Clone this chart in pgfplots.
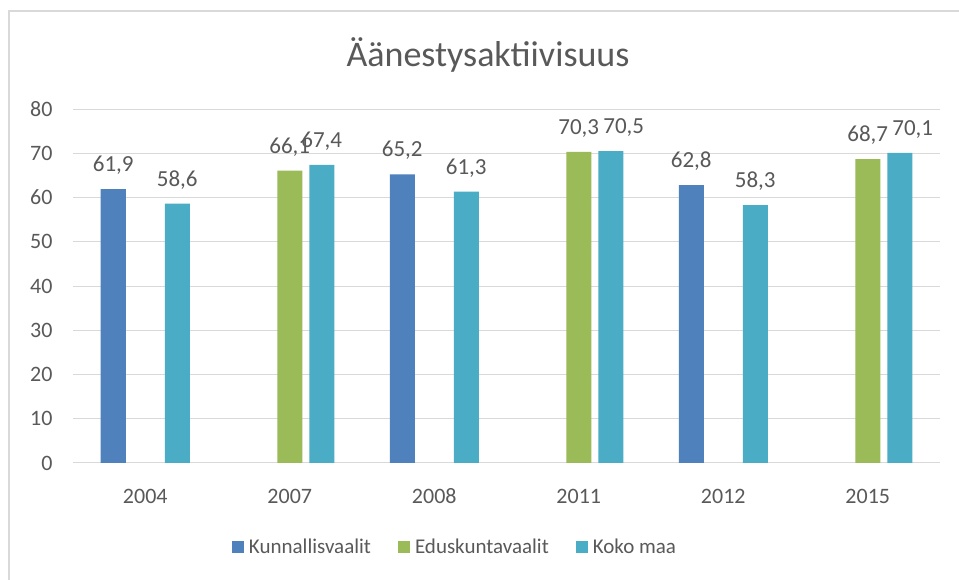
\documentclass[border=0pt]{standalone}
\usepackage{pgfplots}
\pgfplotsset{compat=1.18}
\usepackage{fontspec}
\setmainfont{Carlito}
\definecolor{cBlue}{HTML}{4F81BD}
\definecolor{cGreen}{HTML}{9BBB59}
\definecolor{cTeal}{HTML}{4BACC6}
\definecolor{cText}{HTML}{595959}
\definecolor{cGrid}{HTML}{D9D9D9}
\begin{document}
\begin{tikzpicture}
\path[use as bounding box, fill=white] (0,0) rectangle (959bp,580bp);
\draw[cGrid, line width=1.5bp] (9bp,0) -- (9bp,569bp) -- (959bp,569bp);
\begin{axis}[
  at={(73bp,117bp)}, anchor=south west,
  scale only axis, width=867bp, height=354bp,
  xmin=-0.5, xmax=5.5, ymin=0, ymax=80,
  xtick={0,1,2,3,4,5},
  xticklabels={2004,2007,2008,2011,2012,2015},
  ytick={0,10,...,80},
  axis line style={draw=none},
  major tick length=0pt,
  ymajorgrids, grid style={cGrid, line width=1bp},
  font=\fontsize{22bp}{26bp}\selectfont,
  ticklabel style={text=cText, font=\fontsize{22bp}{26bp}\selectfont},
  /pgf/number format/assume math mode=true,
  yticklabel style={xshift=-17bp},
  xticklabel style={anchor=base, yshift=-40bp},
  ybar, bar width=25bp,
  nodes near coords,
  nodes near coords style={text=cText, font=\fontsize{23bp}{27bp}\selectfont, anchor=base, yshift=17.5bp, inner sep=0pt,
    /pgf/number format/.cd, use comma, fixed, fixed zerofill, precision=1, assume math mode=true},
  legend style={at={(0.4406,-0.237)}, anchor=center, draw=none, fill=none,
    legend columns=3, text=cText, font=\fontsize{21bp}{25bp}\selectfont,
    /tikz/every odd column/.append style={column sep=3bp},
    /tikz/every even column/.append style={column sep=25bp}},
  legend image code/.code={\fill[#1] (0bp,-6bp) rectangle (12bp,6bp);},
]
\addplot[fill=cBlue, draw=none, bar shift=-32bp] coordinates {(0,61.9) (2,65.2) (4,62.8)};
\addlegendentry{Kunnallisvaalit}
\addplot[fill=cGreen, draw=none, bar shift=0bp] coordinates {(1,66.1) (3,70.3) (5,68.7)};
\addlegendentry{Eduskuntavaalit}
\addplot[fill=cTeal, draw=none, bar shift=32bp] coordinates {(0,58.6) (1,67.4) (2,61.3) (4,58.3)};
\addlegendentry{Koko maa}
\addplot[fill=cTeal, draw=none, bar shift=32bp, forget plot,
  nodes near coords style={/tikz/xshift=13bp}] coordinates {(3,70.5) (5,70.1)};
\end{axis}
\node[text=cText, font=\fontsize{36bp}{42bp}\selectfont] at (488bp,525bp) {Äänestysaktiivisuus};
\end{tikzpicture}
\end{document}
